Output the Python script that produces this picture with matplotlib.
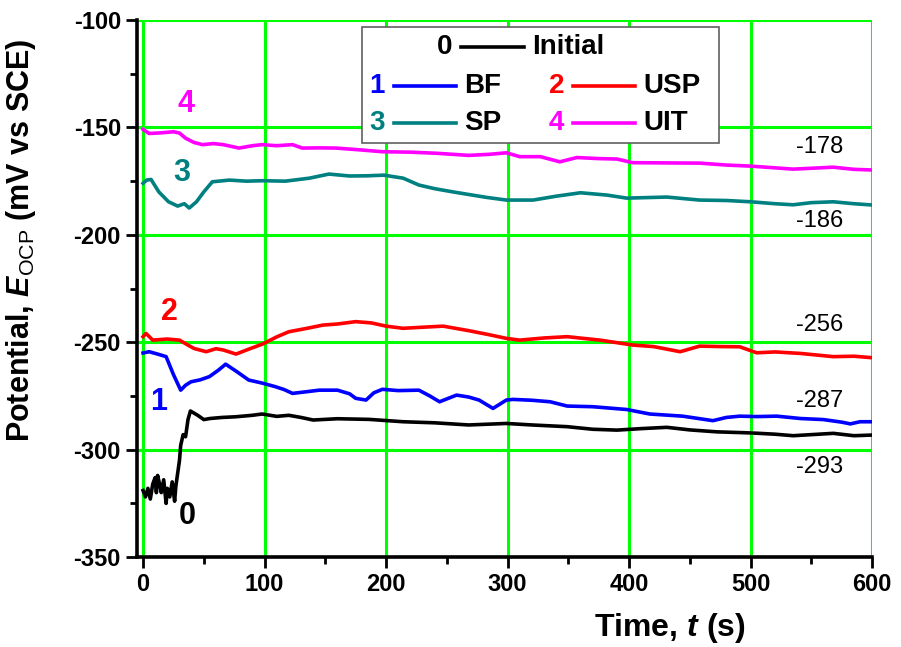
import matplotlib
matplotlib.use("Agg")
import matplotlib.pyplot as plt
from matplotlib.patches import Rectangle
from matplotlib.ticker import MultipleLocator

plt.rcParams['font.family'] = ['Liberation Sans', 'DejaVu Sans']
plt.rcParams['mathtext.fontset'] = 'custom'
plt.rcParams['mathtext.rm'] = 'Liberation Sans'
plt.rcParams['mathtext.it'] = 'Liberation Sans:italic:bold'
plt.rcParams['mathtext.bf'] = 'Liberation Sans:bold'
plt.rcParams['axes.unicode_minus'] = False

NARROW = ['Liberation Sans Narrow', 'Liberation Sans']

# OCP curves: time (s) and potential (mV vs SCE)
t_initial = [0, 2, 4, 6, 8, 10, 11, 12, 14, 15, 17, 19, 20, 22, 24, 26, 27, 28, 30, 31,
             33, 35, 37, 39, 42, 45, 50, 55, 65, 76, 90, 98, 110, 120, 130, 140, 160, 186,
             214, 240, 268, 299, 320, 349, 370, 390, 410, 431, 450, 472, 500, 520, 535,
             550, 568, 585, 600]
e_initial = [-319, -322, -318, -323, -316, -313, -320, -312, -317, -320, -314, -325, -318,
             -322, -315, -324, -317, -313, -305, -298, -293, -294, -286, -282, -283, -284,
             -286, -285.5, -285, -284.7, -284, -283.4, -284.5, -284, -285, -286.2, -285.6,
             -285.9, -287, -287.5, -288.5, -287.8, -288.5, -289.3, -290.5, -290.9, -290.2,
             -289.6, -290.8, -291.7, -292.2, -292.8, -293.5, -293, -292.4, -293.5, -293.2]

t_bf = [0, 5, 12, 19, 25, 31, 35, 39.5, 47, 54.6, 62, 68, 78, 87, 98, 109, 116, 123, 135,
        145, 160, 170, 175, 183.5, 190, 197, 210, 227, 236, 244, 258, 268, 276.5, 288, 299,
        304.5, 320, 335, 349, 370, 398, 417, 444, 469, 480, 491, 505, 521.5, 541, 560, 575,
        582, 590, 600]
e_bf = [-255, -254.4, -255.5, -256.7, -265, -272.3, -270, -268.4, -267.5, -266, -263,
        -260.2, -264, -267.6, -269, -270.7, -272, -273.8, -273, -272.3, -272.3, -274,
        -276.1, -276.9, -273.5, -271.9, -272.5, -272.3, -275, -277.7, -274.6, -275.5,
        -276.9, -280.8, -276.9, -276.6, -277, -277.7, -279.7, -280, -281.3, -283.4, -284.4,
        -286.5, -285, -284.4, -284.6, -284.4, -285.5, -286, -287.2, -288, -287, -287]

t_usp = [0, 2.5, 8, 20, 30, 36, 42, 52, 60, 66, 76.5, 88, 98.5, 110, 120, 135, 148, 160,
         175, 188, 200, 214, 230, 247, 268, 285, 299, 310, 330, 349, 376, 403, 420, 442,
         458, 475, 491, 505, 520, 541, 568, 585, 600]
e_usp = [-247.4, -245.9, -249, -248.5, -249, -251, -252.9, -254.4, -253, -253.6, -255.5,
         -253, -250.8, -247.5, -245.1, -243.5, -242, -241.5, -240.4, -241, -242.5, -243.5,
         -243, -242.5, -244.6, -246.5, -248.2, -249, -248, -247.4, -249, -251.3, -252,
         -254.4, -251.8, -252, -252.1, -254.9, -254.5, -255.2, -256.7, -256.5, -257.2]

t_sp = [0, 3, 6.6, 13, 21, 28.5, 34, 38, 44, 50, 57, 71, 85, 98.5, 117, 137, 153, 170, 185,
        198, 214, 227, 240, 255, 282, 299, 321, 340, 360, 382, 398, 431, 458, 480, 500, 520,
        535, 550, 568, 585, 600]
e_sp = [-176, -174.5, -174.2, -180, -184.6, -186.6, -185.5, -187.5, -184.6, -180, -175.3,
        -174.5, -175, -174.8, -175, -173.6, -171.7, -172.6, -172.5, -172.2, -173.6, -176.8,
        -178.5, -180, -182.5, -183.8, -183.8, -182, -180.4, -181.5, -182.9, -182.4, -183.8,
        -184, -184.6, -185.5, -186, -185, -184.6, -185.5, -186.1]

t_uit = [0, 5, 15, 25, 30, 35, 42, 49, 58, 66, 79, 90, 98, 110, 123, 131, 145, 159, 180,
         197, 220, 241, 268, 285, 299, 310, 327, 343, 357, 375, 390, 403, 430, 458, 480, 500,
         535, 568, 585, 600]
e_uit = [-150.9, -152.8, -152.5, -152, -152.6, -155, -157, -158, -157.5, -158, -159.6,
         -158.5, -158, -158.5, -158, -159.6, -159.5, -159.6, -160.5, -161.3, -161.5, -162,
         -163, -162.5, -161.8, -163.6, -163.6, -166, -164, -164.5, -164.7, -166.4, -166.5,
         -166.6, -167.5, -168, -169.4, -168.5, -169.5, -169.8]

final_labels = ['-178', '-186', '-256', '-287', '-293']
final_label_y = [-159, -193.5, -242, -277.5, -308]

series = [
    ('0', 'Initial', t_initial, e_initial, 'black'),
    ('1', 'BF', t_bf, e_bf, '#0000ff'),
    ('2', 'USP', t_usp, e_usp, '#ff0000'),
    ('3', 'SP', t_sp, e_sp, '#008080'),
    ('4', 'UIT', t_uit, e_uit, '#ff00ff'),
]
# curve number positions (t, E)
num_pos = [(36, -331), (13, -278), (22, -236), (32, -171), (35, -139)]

fig = plt.figure(figsize=(9.01, 6.47), dpi=100)
ax = fig.add_axes([0.152, 0.139, 0.816, 0.830])

for (num, name, t, e, c), (nx, ny) in zip(series, num_pos):
    ax.plot(t, e, color=c, lw=2.6, zorder=3)
    ax.text(nx, ny, num, color=c, fontsize=22, fontweight='bold',
            ha='center', va='center', zorder=4)

for lab, y in zip(final_labels, final_label_y):
    ax.text(557, y, lab, fontsize=17, ha='center', va='center', zorder=4)

ax.set_xlim(-5, 600)
ax.set_ylim(-350, -100)
ax.xaxis.set_major_locator(MultipleLocator(100))
ax.xaxis.set_minor_locator(MultipleLocator(50))
ax.yaxis.set_major_locator(MultipleLocator(50))
ax.yaxis.set_minor_locator(MultipleLocator(25))
ax.grid(True, which='major', color='#00ff00', lw=2.2)
ax.set_axisbelow(True)

for s in ['top', 'right']:
    ax.spines[s].set_visible(False)
for s in ['left', 'bottom']:
    ax.spines[s].set_linewidth(2.6)
ax.tick_params(which='major', direction='out', length=8, width=2)
ax.tick_params(which='minor', direction='out', length=5, width=2)
for lbl in ax.get_yticklabels():
    lbl.set_fontsize(17)
    lbl.set_fontweight('bold')
for lbl in ax.get_xticklabels():
    lbl.set_fontsize(17)
    lbl.set_fontweight('bold')
    lbl.set_family(NARROW)

ax.set_xlabel('Time, $t$ (s)', fontsize=23, fontweight='bold')
ax.xaxis.set_label_coords(0.725, -0.10)
ax.set_ylabel('Potential, $E_{\\mathrm{OCP}}$ (mV vs SCE)', fontsize=22, fontweight='bold')
ax.yaxis.set_label_coords(-0.135, 0.59)

# legend box drawn by hand
ax.add_patch(Rectangle((0.306, 0.771), 0.486, 0.216, transform=ax.transAxes,
                       facecolor='white', edgecolor='#606060', lw=1.2, zorder=5))
rows = [(0.950, [(0.419, 0)]),
        (0.877, [(0.327, 1), (0.571, 2)]),
        (0.808, [(0.327, 3), (0.571, 4)])]
for ry, entries in rows:
    for nx, idx in entries:
        num, name, _, _, c = series[idx]
        ax.text(nx, ry, num, color=c, fontsize=20, fontweight='bold',
                ha='center', va='center', transform=ax.transAxes, zorder=6)
        ax.plot([nx + 0.022, nx + 0.107], [ry, ry], color=c, lw=2.6,
                transform=ax.transAxes, zorder=6, clip_on=False)
        ax.text(nx + 0.118, ry, name, color='black', fontsize=20, fontweight='bold',
                ha='left', va='center', transform=ax.transAxes, zorder=6)

fig.savefig('out.png', dpi=100)
